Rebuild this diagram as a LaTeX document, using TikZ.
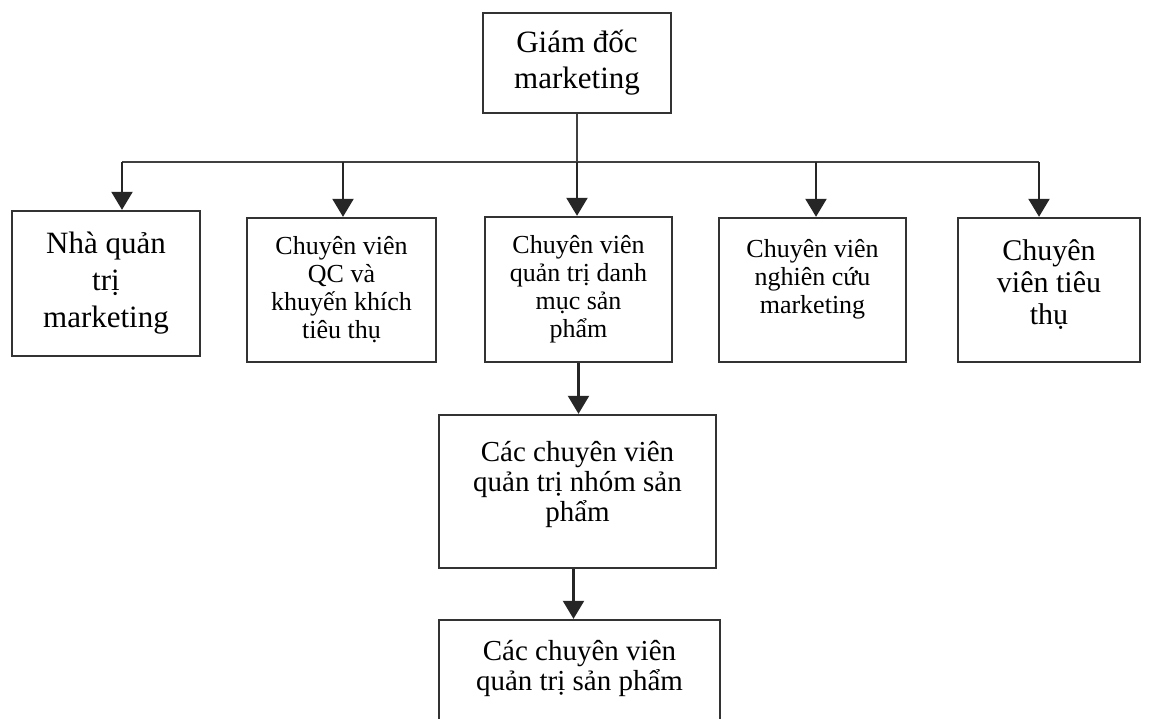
\documentclass[tikz,border=0pt]{standalone}
\usepackage{fontspec}
\setmainfont{Liberation Serif}
\usetikzlibrary{positioning, arrows.meta}

\begin{document}
\begin{tikzpicture}[
    x=1pt, y=-1pt,
    every node/.style={
        draw=black!80,
        line width=2.4pt,
        align=center,
        inner sep=0pt,
        fill=white
    },
    big/.style={font=\fontsize{31}{36}\selectfont},
    small/.style={font=\fontsize{26}{28}\selectfont},
    arrow/.style={-{Triangle[length=18pt,width=21pt]}, line width=2.2pt, draw=black!85},
    link/.style={line width=2.2pt, draw=black!75}
]
\useasboundingbox[fill=white] (0,0) rectangle (1156,718);
\clip (0,0) rectangle (1156,718);

% Director 
\node[big, minimum width=188pt, minimum height=100pt] (gd) at (577,63) {Giám đốc\\marketing};

% First level 
\node[font=\fontsize{31}{37}\selectfont, minimum width=188pt, minimum height=145pt] (nqt) at (106,283.5) {Nhà quản\\trị\\marketing};

\node[small, minimum width=189pt, minimum height=144pt] (qc) at (341.5,290) {Chuyên viên\\QC và\\khuyến khích\\tiêu thụ};

\node[small, minimum width=187pt, minimum height=145pt] (dm) at (578.5,289.5) {Chuyên viên\\quản trị danh\\mục sản\\phẩm};

\node[small, minimum width=187pt, minimum height=144pt] (nc) at (812.5,290) {Chuyên viên\\nghiên cứu\\marketing\\\mbox{}};

\node[font=\fontsize{30}{32}\selectfont, minimum width=182pt, minimum height=144pt] (tt) at (1049,290) {Chuyên\\viên tiêu\\thụ\\[-16pt]\mbox{}};

% Lower levels 
\node[font=\fontsize{29}{30}\selectfont, minimum width=277pt, minimum height=153pt] (nhom) at (577.5,491.5) {Các chuyên viên\\quản trị nhóm sản\\phẩm\\[-9pt]\mbox{}};

\node[font=\fontsize{29}{30}\selectfont, minimum width=281pt, minimum height=120pt] (sp) at (579.5,680) {Các chuyên viên\\quản trị sản phẩm\\\mbox{}};

% Bus line 
\coordinate (split) at (577,162);
\coordinate (j1) at (122,162);
\coordinate (j2) at (343,162);
\coordinate (j4) at (816,162);
\coordinate (j5) at (1039,162);

\draw[link] (gd.south) -- (split);
\draw[link] (j1) -- (j5);

% Arrows down to each box 
\draw[arrow] (j1) -- (j1 |- nqt.north);
\draw[arrow] (j2) -- (j2 |- qc.north);
\draw[arrow] (split) -- (split |- dm.north);
\draw[arrow] (j4) -- (j4 |- nc.north);
\draw[arrow] (j5) -- (j5 |- tt.north);

\draw[arrow] (dm.south) -- (dm.south |- nhom.north);
\draw[arrow] ([xshift=-4pt]nhom.south) -- ([xshift=-4pt]nhom.south |- sp.north);

\end{tikzpicture}
\end{document}
